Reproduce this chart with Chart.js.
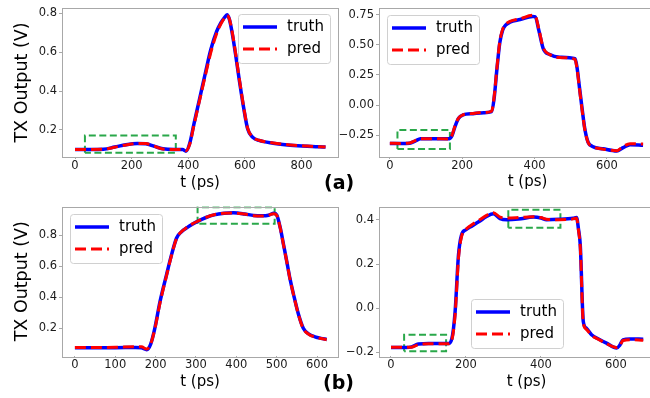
<!DOCTYPE html>
<html>
<head>
<meta charset="utf-8">
<script src="https://cdn.jsdelivr.net/npm/chart.js@4.4.1/dist/chart.umd.min.js"></script>
<style>
    body { margin: 0; width: 650px; height: 398px; overflow: hidden; background: #fff; position: relative; }
    canvas { position: absolute; left: 0; top: -20px; }
    .tag { position: absolute; font: bold 19px 'DejaVu Sans', sans-serif; line-height: 22px; color: #000; }
</style>
</head>
<body>
<canvas id="chartA" width="700" height="440"></canvas>
<canvas id="chartB" width="700" height="440"></canvas>
<canvas id="chartC" width="700" height="440"></canvas>
<canvas id="chartD" width="700" height="440"></canvas>
<div class="tag" style="left:324px; top:171px;">(a)</div>
<div class="tag" style="left:323px; top:371px;">(b)</div>
<script>
// (a) left: time in ps, output in V
const tA = [0, 50, 100, 140, 180, 220, 250, 280, 310, 350, 380, 392, 405, 420, 440, 460, 480, 500, 515, 528, 537, 545, 555, 567, 580, 595, 610, 628, 650, 700, 760, 820, 885];
const truthA = [0.100, 0.100, 0.101, 0.112, 0.124, 0.130, 0.129, 0.116, 0.103, 0.099, 0.099, 0.091, 0.130, 0.230, 0.360, 0.490, 0.615, 0.705, 0.750, 0.778, 0.792, 0.770, 0.700, 0.590, 0.460, 0.320, 0.205, 0.162, 0.146, 0.132, 0.122, 0.116, 0.112];
const predA = [0.100, 0.100, 0.101, 0.111, 0.123, 0.131, 0.130, 0.117, 0.102, 0.100, 0.099, 0.093, 0.126, 0.224, 0.352, 0.478, 0.600, 0.695, 0.745, 0.776, 0.790, 0.772, 0.705, 0.596, 0.466, 0.325, 0.208, 0.163, 0.147, 0.133, 0.123, 0.117, 0.112];

// (a) right
const tB = [0, 30, 55, 70, 85, 120, 165, 172, 180, 190, 202, 230, 260, 281, 288, 296, 304, 312, 320, 332, 360, 395, 402, 412, 424, 442, 470, 512, 518, 524, 531, 539, 548, 560, 590, 627, 645, 664, 700];
const truthB = [-0.320, -0.320, -0.318, -0.300, -0.282, -0.280, -0.280, -0.255, -0.180, -0.110, -0.083, -0.072, -0.064, -0.055, 0.050, 0.300, 0.520, 0.625, 0.665, 0.690, 0.712, 0.738, 0.735, 0.620, 0.470, 0.420, 0.398, 0.385, 0.300, 0.150, -0.020, -0.200, -0.310, -0.345, -0.365, -0.383, -0.355, -0.330, -0.335];
const predB = [-0.318, -0.320, -0.316, -0.296, -0.280, -0.281, -0.283, -0.250, -0.175, -0.108, -0.082, -0.070, -0.062, -0.052, 0.060, 0.310, 0.530, 0.632, 0.672, 0.696, 0.718, 0.748, 0.742, 0.630, 0.478, 0.420, 0.395, 0.380, 0.290, 0.140, -0.030, -0.205, -0.312, -0.345, -0.368, -0.380, -0.345, -0.322, -0.325];

// (b) left
const tC = [0, 50, 100, 150, 165, 178, 188, 198, 211, 227, 240, 252, 265, 277, 290, 304, 325, 345, 370, 393, 420, 443, 465, 480, 493, 500, 509, 517, 525, 533, 542, 554, 566, 580, 595, 610, 624];
const truthC = [0.075, 0.075, 0.075, 0.076, 0.074, 0.062, 0.100, 0.200, 0.373, 0.545, 0.680, 0.783, 0.825, 0.848, 0.870, 0.890, 0.915, 0.932, 0.942, 0.945, 0.938, 0.928, 0.926, 0.930, 0.942, 0.932, 0.848, 0.740, 0.632, 0.520, 0.416, 0.290, 0.200, 0.162, 0.145, 0.135, 0.128];
const predC = [0.076, 0.076, 0.077, 0.080, 0.080, 0.066, 0.100, 0.195, 0.365, 0.540, 0.676, 0.780, 0.826, 0.850, 0.872, 0.891, 0.916, 0.933, 0.943, 0.944, 0.937, 0.927, 0.925, 0.930, 0.940, 0.930, 0.846, 0.738, 0.630, 0.518, 0.414, 0.288, 0.198, 0.160, 0.144, 0.134, 0.126];

// (b) right
const tD = [0, 40, 55, 73, 100, 153, 162, 171, 180, 188, 200, 211, 235, 255, 273, 291, 309, 340, 380, 400, 415, 450, 486, 495, 500, 505, 513, 521, 535, 555, 575, 602, 610, 619, 637, 673];
const truthD = [-0.178, -0.178, -0.175, -0.162, -0.160, -0.160, -0.140, -0.016, 0.240, 0.330, 0.355, 0.367, 0.392, 0.415, 0.427, 0.405, 0.400, 0.403, 0.412, 0.408, 0.400, 0.402, 0.407, 0.410, 0.360, 0.284, -0.060, -0.090, -0.120, -0.140, -0.158, -0.180, -0.168, -0.143, -0.139, -0.140];
const predD = [-0.176, -0.177, -0.176, -0.165, -0.161, -0.161, -0.145, -0.030, 0.225, 0.322, 0.356, 0.372, 0.398, 0.420, 0.432, 0.412, 0.408, 0.410, 0.414, 0.410, 0.402, 0.400, 0.404, 0.408, 0.355, 0.275, -0.065, -0.095, -0.123, -0.142, -0.160, -0.178, -0.170, -0.146, -0.142, -0.145];

// highlighted regions: [t start, t end, V low, V high]
const boxesA = [[35, 356, 0.083, 0.171]];
const boxesB = [[21, 166, -0.367, -0.208]];
const boxesC = [[304, 495, 0.874, 0.981]];
const boxesD = [[35, 147, -0.195, -0.120], [313, 452, 0.364, 0.445]];

// axis limits and ticks
const xRangeA = [-46, 929], yRangeA = [0.061, 0.827];
const xRangeB = [-30, 791], yRangeB = [-0.433, 0.808];
const xRangeC = [-32, 652], yRangeC = [0.021, 0.986];
const xRangeD = [-32, 755], yRangeD = [-0.216, 0.46];
const xTicksA = [0, 200, 400, 600, 800], yTicksA = [0.2, 0.4, 0.6, 0.8];
const xTicksB = [0, 200, 400, 600], yTicksB = [-0.25, 0, 0.25, 0.5, 0.75];
const xTicksC = [0, 100, 200, 300, 400, 500, 600], yTicksC = [0.2, 0.4, 0.6, 0.8];
const xTicksD = [0, 200, 400, 600], yTicksD = [-0.2, 0, 0.2, 0.4];

const OFF = 20;      // canvases start 20px above the page
const CW = 700, CH = 440;

Chart.defaults.font.family = "'DejaVu Sans', sans-serif";
Chart.defaults.color = '#1a1a1a';

// axes frame on all four sides
const frame = {
    id: 'frame',
    afterDatasetsDraw(chart) {
        const { ctx, chartArea: a } = chart;
        ctx.save();
        ctx.strokeStyle = '#a8a8a8';
        ctx.lineWidth = 1;
        ctx.strokeRect(Math.round(a.left) + 0.5, Math.round(a.top) + 0.5,
            Math.round(a.right - a.left), Math.round(a.bottom - a.top));
        ctx.restore();
    }
};

// matplotlib style legend inside the axes
const boxLegend = {
    id: 'boxLegend',
    afterDraw(chart, args, opts) {
        const ctx = chart.ctx;
        const x = opts.left, y = opts.top + OFF, w = 92, h = 49;
        ctx.save();
        ctx.beginPath();
        ctx.roundRect(x + 0.5, y + 0.5, w, h, 3);
        ctx.fillStyle = 'rgba(255,255,255,0.8)';
        ctx.fill();
        ctx.strokeStyle = '#d0d0d0';
        ctx.lineWidth = 1;
        ctx.stroke();
        const items = chart.data.datasets.filter(d => d.label);
        items.forEach((d, i) => {
            const ry = y + 13 + i * 22;
            ctx.beginPath();
            ctx.setLineDash(d.borderDash || []);
            ctx.strokeStyle = d.borderColor;
            ctx.lineWidth = d.borderWidth;
            ctx.moveTo(x + 5, ry);
            ctx.lineTo(x + 39, ry);
            ctx.stroke();
            ctx.setLineDash([]);
            ctx.fillStyle = '#000';
            ctx.font = "15px 'DejaVu Sans', sans-serif";
            ctx.textBaseline = 'middle';
            ctx.fillText(d.label, x + 49, ry);
        });
        ctx.restore();
    }
};

function buildSets(t, truth, pred, boxes) {
    const sets = [
        { label: 'truth', data: t.map((x, i) => ({ x: x, y: truth[i] })), borderColor: '#0000ff', borderWidth: 3.5, order: 1 },
        { label: 'pred', data: t.map((x, i) => ({ x: x, y: pred[i] })), borderColor: '#ff0000', borderWidth: 3, borderDash: [11, 5], order: 0 }
    ];
    boxes.forEach(b => {
        sets.push({
            data: [{ x: b[0], y: b[2] }, { x: b[0], y: b[3] }, { x: b[1], y: b[3] }, { x: b[1], y: b[2] }, { x: b[0], y: b[2] }],
            borderColor: '#2aa84a', borderWidth: 2, borderDash: [7, 3.5], cubicInterpolationMode: 'default', order: 2
        });
    });
    return sets;
}

// area = plot box in page px; yLeft = left edge of y axis box; xTitleY = centre of x title
function makeChart(id, o) {
    const yW = o.area.l - o.yLeft;
    const xBottom = o.xTitleY + 9;
    const xH = xBottom - o.area.b;
    const fmt = v => v.toFixed(o.dec).replace('-', '\u2212');
    return new Chart(document.getElementById(id), {
        type: 'line',
        data: { datasets: buildSets(o.t, o.truth, o.pred, o.boxes) },
        options: {
            responsive: false,
            animation: false,
            events: [],
            elements: {
                point: { radius: 0 },
                line: { cubicInterpolationMode: 'monotone', fill: false }
            },
            layout: { padding: { left: o.yLeft, top: o.area.t + OFF, right: CW - o.area.r, bottom: CH - xBottom - OFF } },
            plugins: {
                legend: { display: false },
                tooltip: { enabled: false },
                boxLegend: o.legend
            },
            scales: {
                x: {
                    type: 'linear',
                    min: o.xRange[0],
                    max: o.xRange[1],
                    afterFit: s => { s.height = xH; },
                    afterBuildTicks: s => { s.ticks = o.xTicks.map(v => ({ value: v })); },
                    ticks: { font: { size: 11.5 }, padding: 0, maxRotation: 0, autoSkip: false, callback: v => String(v) },
                    grid: { drawOnChartArea: false, drawTicks: true, tickLength: 2, color: '#a8a8a8' },
                    border: { display: false },
                    title: { display: true, text: 't (ps)', color: '#000', font: { size: 15 }, padding: { top: 0, bottom: 0 } }
                },
                y: {
                    type: 'linear',
                    min: o.yRange[0],
                    max: o.yRange[1],
                    afterFit: s => { s.width = yW; },
                    afterBuildTicks: s => { s.ticks = o.yTicks.map(v => ({ value: v })); },
                    ticks: { font: { size: 11.5 }, padding: 2, autoSkip: false, callback: v => fmt(v) },
                    grid: { drawOnChartArea: false, drawTicks: true, tickLength: 3, color: '#a8a8a8' },
                    border: { display: false },
                    title: { display: o.yTitle, text: 'TX Output (V)', color: '#000', font: { size: 17.5 }, padding: { top: 11.5, bottom: 0 } }
                }
            }
        },
        plugins: [frame, boxLegend]
    });
}

makeChart('chartA', {
    t: tA, truth: truthA, pred: predA, boxes: boxesA,
    xRange: xRangeA, yRange: yRangeA, xTicks: xTicksA, yTicks: yTicksA, dec: 1,
    area: { l: 62, t: 8, r: 338, b: 157 }, yLeft: 0, xTitleY: 183, yTitle: true,
    legend: { left: 238, top: 14 }
});
makeChart('chartB', {
    t: tB, truth: truthB, pred: predB, boxes: boxesB,
    xRange: xRangeB, yRange: yRangeB, xTicks: xTicksB, yTicks: yTicksB, dec: 2,
    area: { l: 379, t: 8, r: 676, b: 157 }, yLeft: 329, xTitleY: 182, yTitle: false,
    legend: { left: 387, top: 15 }
});
makeChart('chartC', {
    t: tC, truth: truthC, pred: predC, boxes: boxesC,
    xRange: xRangeC, yRange: yRangeC, xTicks: xTicksC, yTicks: yTicksC, dec: 1,
    area: { l: 62, t: 206.5, r: 338, b: 356 }, yLeft: 0, xTitleY: 382, yTitle: true,
    legend: { left: 70, top: 214 }
});
makeChart('chartD', {
    t: tD, truth: truthD, pred: predD, boxes: boxesD,
    xRange: xRangeD, yRange: yRangeD, xTicks: xTicksD, yTicks: yTicksD, dec: 1,
    area: { l: 379, t: 206.5, r: 674, b: 356 }, yLeft: 329, xTitleY: 382, yTitle: false,
    legend: { left: 471, top: 299 }
});
</script>
</body>
</html>
